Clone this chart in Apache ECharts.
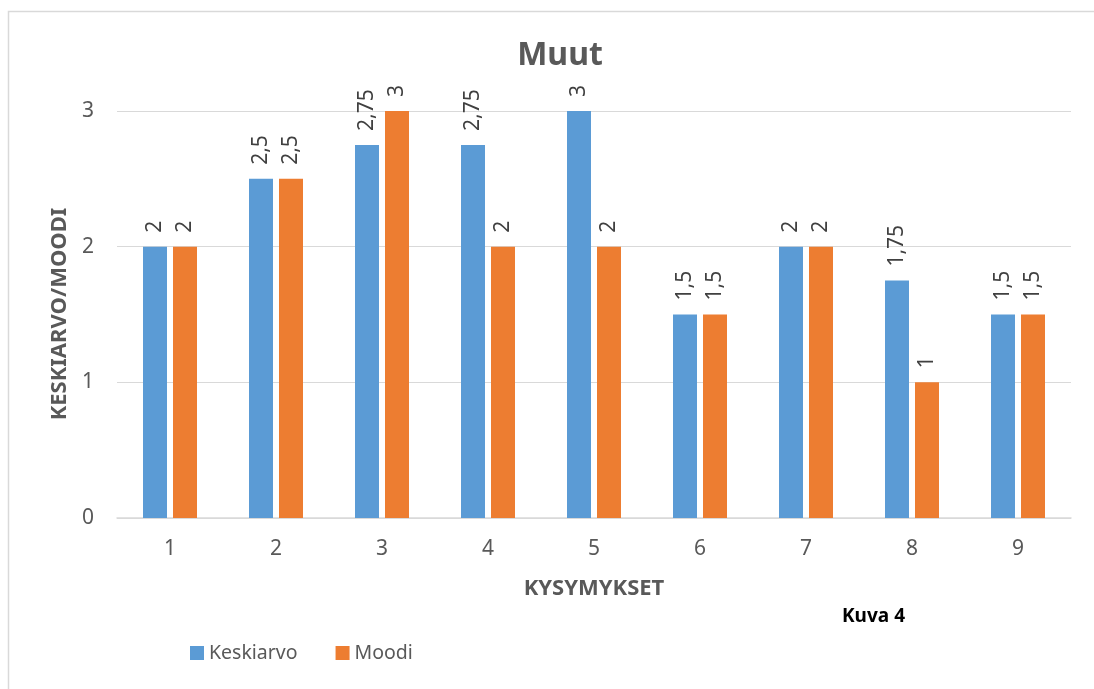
<!DOCTYPE html>
<html>
<head>
<meta charset="utf-8">
<script src="https://cdn.jsdelivr.net/npm/echarts@6/dist/echarts.min.js"></script>
<style>html,body{margin:0;padding:0;background:#fff;}#c{width:1094px;height:689px;}</style>
</head>
<body>
<div id="c"></div>
<script>
var categories = ['1','2','3','4','5','6','7','8','9'];
var keskiarvo = [2, 2.5, 2.75, 2.75, 3, 1.5, 2, 1.75, 1.5];
var moodi = [2, 2.5, 3, 2, 2, 1.5, 2, 1, 1.5];
var seriesNames = ['Keskiarvo', 'Moodi'];
var yAxisTitle = 'KESKIARVO/MOODI';

var chart = echarts.init(document.getElementById('c'));
var font = '"Noto Sans", "Open Sans", sans-serif';
function fmt(p){ return String(p.value).replace('.', ','); }
var labelOpt = {
  show: true, position: 'top', rotate: 90, align: 'left', verticalAlign: 'middle',
  distance: 14, color: '#404040', fontSize: 21, fontFamily: font, formatter: fmt
};
chart.setOption({
  animation: false,
  backgroundColor: '#fff',
  graphic: [{
    type: 'rect', shape: {x: 8.5, y: 11.5, width: 1200, height: 800},
    style: {fill: 'none', stroke: '#d9d9d9', lineWidth: 1.5}, silent: true
  }, {
    type: 'text', left: 842, top: 607,
    style: {text: 'Kuva 4', fill: '#000', font: 'bold 19px ' + font}
  }, {
    type: 'text', x: 60, y: 314, rotation: Math.PI / 2,
    style: {text: yAxisTitle, fill: '#595959', font: 'bold 22px ' + font,
            align: 'center', verticalAlign: 'middle'}
  }],
  title: {
    text: 'Muut', left: 555, top: 35, textAlign: 'center',
    textStyle: {color: '#595959', fontSize: 32, fontWeight: 'bold', fontFamily: font}
  },
  legend: {
    data: seriesNames, left: 185, top: 638, itemWidth: 14, itemHeight: 14, itemGap: 38,
    icon: 'rect',
    textStyle: {color: '#595959', fontSize: 19.5, fontFamily: font}
  },
  grid: {left: 117, right: 23, top: 111, bottom: 171, containLabel: false},
  xAxis: {
    type: 'category', data: categories,
    name: 'KYSYMYKSET', nameLocation: 'middle', nameGap: 60,
    nameTextStyle: {color: '#595959', fontSize: 22, fontWeight: 'bold', fontFamily: font},
    axisLine: {lineStyle: {color: '#d9d9d9', width: 1.5}},
    axisTick: {show: false},
    axisLabel: {color: '#595959', fontSize: 21, margin: 21, fontFamily: font}
  },
  yAxis: {
    type: 'value', min: 0, max: 3, interval: 1,
    axisLine: {show: false}, axisTick: {show: false},
    splitLine: {lineStyle: {color: '#d9d9d9', width: 1.2}},
    axisLabel: {color: '#595959', fontSize: 21, margin: 23, fontFamily: font}
  },
  series: [{
    name: seriesNames[0], type: 'bar', data: keskiarvo, barWidth: 24, barGap: '25%',
    itemStyle: {color: '#5B9BD5'}, label: labelOpt
  }, {
    name: seriesNames[1], type: 'bar', data: moodi, barWidth: 24, barGap: '25%',
    itemStyle: {color: '#ED7D31'}, label: labelOpt
  }]
});
</script>
</body>
</html>
